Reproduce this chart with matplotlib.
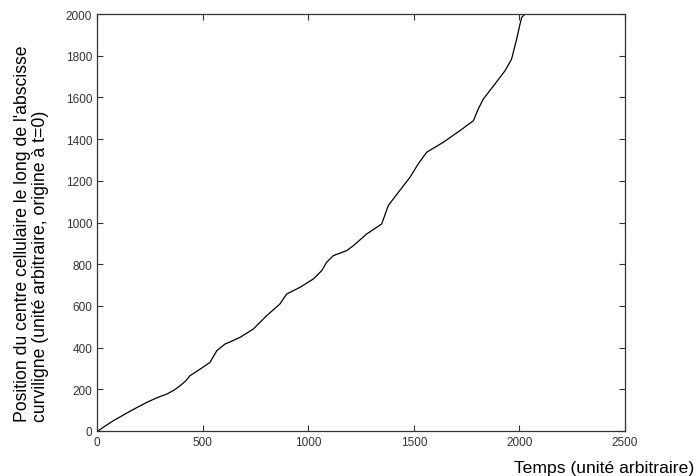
import matplotlib
matplotlib.use("Agg")
import matplotlib.pyplot as plt

plt.rcParams['font.family'] = ['Liberation Sans', 'DejaVu Sans']

temps = [0, 6, 40, 77, 110, 148, 190, 235, 285, 330, 365, 393, 420, 440, 490, 535,
         567, 606, 640, 677, 740, 803, 866, 898, 961, 1024, 1064, 1087, 1119, 1182,
         1214, 1277, 1348, 1379, 1427, 1482, 1521, 1561, 1640, 1719, 1782, 1805,
         1829, 1884, 1932, 1963, 1987, 2003, 2011, 2027]
position = [0, 1, 25, 49, 68, 90, 113, 137, 160, 177, 196, 217, 240, 265, 298, 329,
            385, 417, 432, 449, 489, 553, 609, 657, 689, 729, 769, 809, 841, 865,
            889, 945, 993, 1081, 1145, 1217, 1281, 1337, 1385, 1441, 1488, 1544,
            1592, 1664, 1728, 1784, 1880, 1952, 1984, 2000]

xticks = [0, 500, 1000, 1500, 2000, 2500]
yticks = [0, 200, 400, 600, 800, 1000, 1200, 1400, 1600, 1800, 2000]

fig = plt.figure(figsize=(6.96, 4.77), dpi=100)
ax = fig.add_axes([97/696, 1-432/477, (625-97)/696, (432-15)/477])
ax.plot(temps, position, color='black', linewidth=0.9)
ax.set_xlim(0, 2500)
ax.set_ylim(0, 2000)
ax.set_xticks(xticks)
ax.set_yticks(yticks)
ax.tick_params(direction='in', length=4, width=0.8, top=True, right=True,
               labelsize=8.5, labelcolor='#333333', color='#333333')
for s in ax.spines.values():
    s.set_linewidth(0.9)
    s.set_color('#333333')

fig.text(0.998, 0.003, "Temps (unité arbitraire)", ha='right', va='bottom', fontsize=12.6)
fig.text(0.045, 0.509, "Position du centre cellulaire le long de l'abscisse\ncurviligne (unité arbitraire, origine à t=0)",
         rotation=90, ha='center', va='center', fontsize=12.7, multialignment='left',
         linespacing=1.1)

fig.savefig("out.png", dpi=100)
